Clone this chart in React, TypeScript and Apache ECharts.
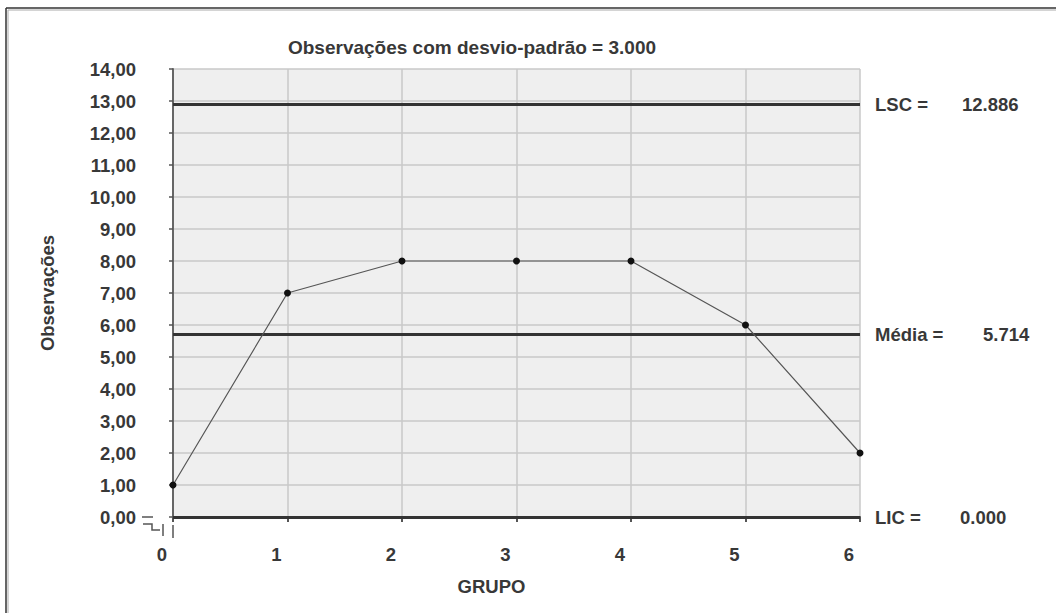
import React, { useEffect, useRef } from "react";
import * as echarts from "echarts";

const groups = [0, 1, 2, 3, 4, 5, 6];
const observations = [1, 7, 8, 8, 8, 6, 2];
const limitNames = ["LSC =", "Média =", "LIC ="];
const limitValues = [12.886, 5.714, 0.0];
const limitLabelWidths = [87, 108, 85];
const titleText = "Observações com desvio-padrão = 3.000";

const FONT = "'Liberation Sans', Arial, sans-serif";
const TXT = "#383838";
const FS = 18.5;

export default function App() {
  const ref = useRef<HTMLDivElement>(null);
  useEffect(() => {
    if (!ref.current) return;
    const chart = echarts.init(ref.current, undefined, { renderer: "svg" });
    const data = groups.map((g, i) => [g, observations[i]]);
    chart.setOption({
      animation: false,
      backgroundColor: "#ffffff",
      textStyle: { fontFamily: FONT },
      title: {
        text: titleText,
        left: 467,
        top: 33,
        textAlign: "center",
        textStyle: { fontFamily: FONT, fontSize: 19, fontWeight: "bold", color: TXT },
      },
      grid: {
        left: 173,
        right: 196,
        top: 69,
        bottom: 96,
        show: true,
        backgroundColor: "#efefef",
        borderWidth: 0,
      },
      xAxis: {
        type: "value",
        min: 0,
        max: 6,
        interval: 1,
        offset: 15,
        name: "GRUPO",
        nameLocation: "middle",
        nameGap: 45,
        nameTextStyle: {
          fontFamily: FONT,
          fontSize: FS,
          fontWeight: "bold",
          color: TXT,
          padding: [0, 50, 0, 0],
        },
        axisLine: { show: true, lineStyle: { color: "#555", width: 2 } },
        axisTick: { show: true, length: 5, lineStyle: { color: "#555", width: 2 } },
        axisLabel: {
          margin: 13,
          fontFamily: FONT,
          fontSize: FS,
          fontWeight: "bold",
          color: TXT,
          padding: [0, 22, 0, 0],
        },
        splitLine: { show: true, lineStyle: { color: "#c8c8c8", width: 1.5 } },
      },
      yAxis: {
        type: "value",
        min: 0,
        max: 14,
        interval: 1,
        offset: 26,
        name: "Observações",
        nameLocation: "middle",
        nameRotate: 90,
        nameGap: 90,
        nameTextStyle: { fontFamily: FONT, fontSize: FS, fontWeight: "bold", color: TXT },
        axisLine: { show: true, lineStyle: { color: "#666", width: 2 } },
        axisTick: { show: true, length: 4, lineStyle: { color: "#555", width: 1.5 } },
        axisLabel: {
          margin: 11,
          fontFamily: FONT,
          fontSize: FS,
          fontWeight: "bold",
          color: TXT,
          formatter: (v: number) => v.toFixed(2).replace(".", ","),
        },
        splitLine: { show: true, lineStyle: { color: "#c8c8c8", width: 1.5 } },
      },
      series: [
        {
          type: "line",
          data,
          symbol: "circle",
          symbolSize: 7,
          lineStyle: { color: "#555", width: 1.2 },
          itemStyle: { color: "#111" },
          z: 5,
          markLine: {
            silent: true,
            symbol: "none",
            z: 3,
            lineStyle: { color: "#333", width: 3, type: "solid" },
            data: limitValues.map((v, i) => ({
              yAxis: v,
              label: {
                show: true,
                position: "end",
                distance: 15,
                formatter: `{a|${limitNames[i]}}{b|${v.toFixed(3)}}`,
                rich: {
                  a: {
                    width: limitLabelWidths[i],
                    fontFamily: FONT,
                    fontSize: FS,
                    fontWeight: "bold",
                    color: TXT,
                  },
                  b: { fontFamily: FONT, fontSize: FS, fontWeight: "bold", color: TXT },
                },
              },
            })),
          },
        },
      ],
      graphic: [
        { type: "line", shape: { x1: 6, y1: 8, x2: 1056, y2: 8 }, style: { stroke: "#333", lineWidth: 1.5 } },
        { type: "line", shape: { x1: 6, y1: 8, x2: 6, y2: 613 }, style: { stroke: "#333", lineWidth: 1.5 } },
        { type: "line", shape: { x1: 8, y1: 10, x2: 1056, y2: 10 }, style: { stroke: "#aaa", lineWidth: 1 } },
        { type: "line", shape: { x1: 8, y1: 10, x2: 8, y2: 613 }, style: { stroke: "#aaa", lineWidth: 1 } },
        { type: "line", shape: { x1: 142, y1: 517, x2: 153, y2: 517 }, style: { stroke: "#555", lineWidth: 1.5 } },
        {
          type: "polyline",
          shape: { points: [[143, 524], [152, 524], [152, 530], [160, 530]] },
          style: { stroke: "#555", lineWidth: 1.5, fill: "none" },
        },
        { type: "line", shape: { x1: 163, y1: 524, x2: 163, y2: 536 }, style: { stroke: "#555", lineWidth: 1.5 } },
        { type: "line", shape: { x1: 173, y1: 525, x2: 173, y2: 538 }, style: { stroke: "#555", lineWidth: 1.5 } },
      ],
    });
    return () => chart.dispose();
  }, []);
  return (
    <div
      ref={ref}
      style={{ position: "fixed", left: 0, top: 0, width: 1056, height: 613 }}
    />
  );
}
